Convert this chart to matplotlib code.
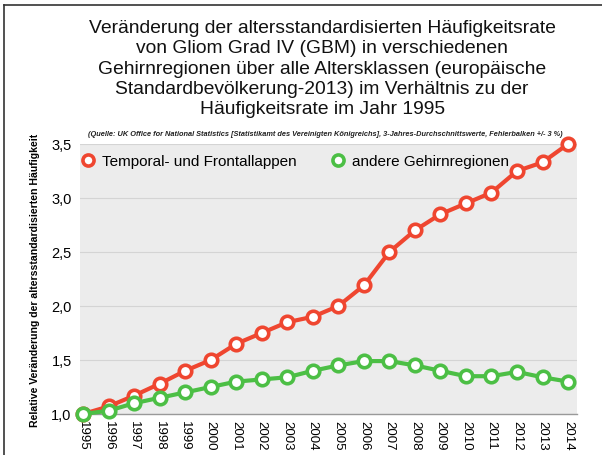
import matplotlib
matplotlib.use("Agg")
from matplotlib import pyplot as plt
from matplotlib.lines import Line2D
from matplotlib.ticker import FuncFormatter

# relative change of the age-standardised incidence rate (1995 = 1.0)
years = list(range(1995, 2015))
temporal_frontal = [1.0, 1.07, 1.17, 1.28, 1.40, 1.50, 1.65, 1.75, 1.85, 1.90,
                    2.00, 2.19, 2.50, 2.70, 2.85, 2.95, 3.05, 3.25, 3.33, 3.50]
other_regions = [1.0, 1.03, 1.10, 1.15, 1.20, 1.25, 1.30, 1.32, 1.34, 1.40,
                 1.45, 1.49, 1.49, 1.45, 1.40, 1.35, 1.35, 1.39, 1.34, 1.30]
series_labels = ["Temporal- und Frontallappen", "andere Gehirnregionen"]

title = ("Veränderung der altersstandardisierten Häufigkeitsrate\n"
         "von Gliom Grad IV (GBM) in verschiedenen\n"
         "Gehirnregionen über alle Altersklassen (europäische\n"
         "Standardbevölkerung-2013) im Verhältnis zu der\n"
         "Häufigkeitsrate im Jahr 1995")
source = ("(Quelle: UK Office for National Statistics [Statistikamt des Vereinigten Königreichs], "
          "3-Jahres-Durchschnittswerte, Fehlerbalken +/- 3 %)")
ylabel = "Relative Veränderung der altersstandardisierten Häufigkeit"

plt.rcParams['font.family'] = ['Liberation Sans', 'DejaVu Sans']

red = "#ef4630"
green = "#4cbf45"

fig = plt.figure(figsize=(6.02, 4.56), dpi=100)
fig.patch.set_facecolor("white")

# frame around the picture (cut off at right and bottom)
fig.add_artist(Line2D([4/602, 4/602], [0, 1 - 6/456], color="#333333", lw=1.2,
                      transform=fig.transFigure))
fig.add_artist(Line2D([4/602, 1], [1 - 6/456, 1 - 6/456], color="#333333", lw=1.2,
                      transform=fig.transFigure))

fig.text(0.535, 1 - 20/456, title, ha="center", va="top", fontsize=13.9,
         linespacing=1.25, color="#111111")
fig.text(88/602, 1 - 134/456, source, ha="left", va="center", fontsize=5.3,
         style="italic", fontweight="bold", color="#222222")

ax = fig.add_axes([80/602, 1 - 415/456, 497/602, 270/456])
ax.set_facecolor("#ececec")

for vals, col, lab in [(temporal_frontal, red, series_labels[0]),
                       (other_regions, green, series_labels[1])]:
    ax.plot(years, vals, color=col, lw=3, marker="o", markersize=9,
            markerfacecolor="white", markeredgecolor=col, markeredgewidth=2.6,
            clip_on=False, zorder=3, label=lab)

ax.set_xlim(1994.88, 2014.35)
ax.set_ylim(1.0, 3.5)
ax.set_yticks([1.0, 1.5, 2.0, 2.5, 3.0, 3.5])
ax.yaxis.set_major_formatter(FuncFormatter(lambda v, p: f"{v:.1f}".replace(".", ",")))
ax.set_xticks(years)
ax.set_xticklabels([str(y) for y in years], rotation=270, fontsize=9.5)
ax.tick_params(axis="y", labelsize=10.5, length=0, pad=6)
ax.tick_params(axis="x", length=0, pad=4)
ax.grid(axis="y", color="#d4d4d4", lw=0.8)
ax.set_axisbelow(True)
for s in ["top", "right", "left"]:
    ax.spines[s].set_visible(False)
ax.spines["bottom"].set_color("#999999")
ax.spines["bottom"].set_linewidth(1)

ax.set_ylabel(ylabel, fontsize=7.6, fontweight="bold", labelpad=8)

handles = [Line2D([], [], ls="none", marker="o", markersize=8, markerfacecolor="white",
                  markeredgecolor=c, markeredgewidth=2.6) for c in (red, green)]
ax.legend(handles, series_labels, loc="upper left", bbox_to_anchor=(-0.027, 1.014),
          ncol=2, frameon=False, fontsize=11.0, handletextpad=0.4,
          columnspacing=2.25, handlelength=1.0)

plt.savefig("out.png", dpi=100)
